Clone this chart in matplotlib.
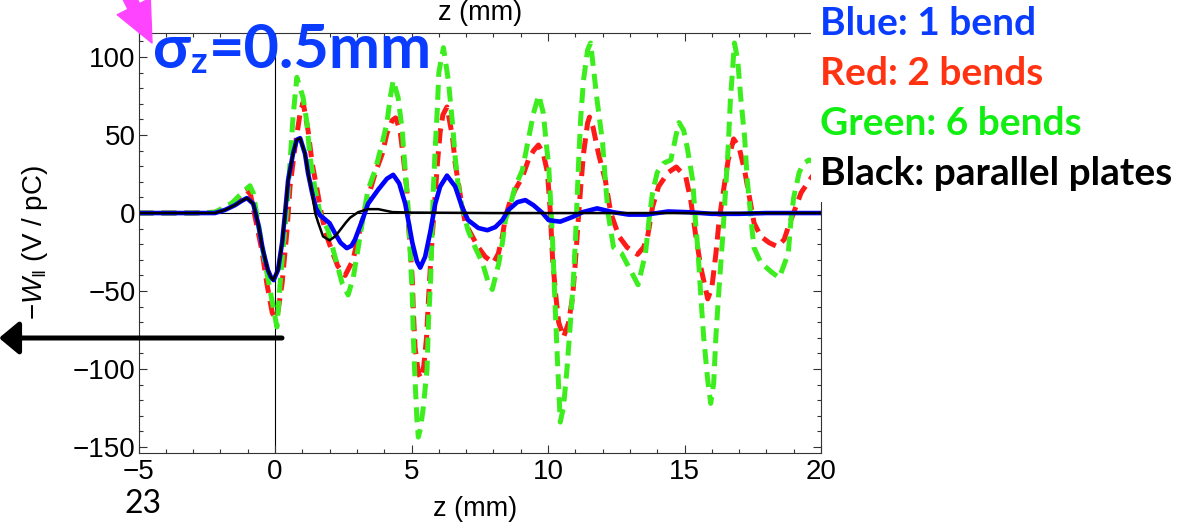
import numpy as np
import matplotlib.pyplot as plt
from matplotlib.patches import FancyArrowPatch, Rectangle
from matplotlib.ticker import MultipleLocator

plt.rcParams['font.family'] = ['Liberation Sans', 'DejaVu Sans']
plt.rcParams['mathtext.fontset'] = 'custom'
plt.rcParams['mathtext.rm'] = 'Liberation Sans'
plt.rcParams['mathtext.it'] = 'Liberation Sans:italic'

# wake potential -W|| (V/pC) against z (mm)
z_black = [-5, -3, -2.2, -1.83, -1.47, -1.2, -1.03, -0.8, -0.62, -0.44,
           -0.26, -0.15, -0.07, 0.11, 0.26, 0.37, 0.48, 0.66, 0.8, 0.92,
           1.1, 1.21, 1.36, 1.47, 1.58, 1.76, 2.0, 2.2, 2.38, 2.6,
           2.75, 3.05, 3.41, 3.78, 4.3, 5.0, 6.0, 8.0, 12.0, 20.0]
w_black = [0, 0, 0, 2, 5, 8, 9.6, 6, -6.5, -24,
           -36.5, -41, -43, -36.5, -19, 0, 21, 38, 47, 48,
           38, 25.6, 13, 0, -6, -15, -17.5, -15, -11, -6,
           -3, 0.6, 2.5, 2.5, 0.6, 0.3, 0.2, 0, 0, 0]

z_blue = [-5, -3, -2.2, -1.83, -1.47, -1.2, -1.03, -0.8, -0.62, -0.44,
          -0.26, -0.15, -0.05, 0.11, 0.26, 0.37, 0.48, 0.66, 0.8, 0.92,
          1.1, 1.21, 1.36, 1.5, 1.65, 1.83, 2.0, 2.2, 2.4, 2.63,
          2.8, 2.93, 3.2, 3.41, 3.78, 4.1, 4.33, 4.55, 4.77, 5.03,
          5.2, 5.32, 5.5, 5.7, 5.87, 6.05, 6.3, 6.6, 6.85, 7.07,
          7.45, 7.78, 8.07, 8.33, 8.55, 8.88, 9.17, 9.47, 9.8, 10.02,
          10.2, 10.45, 10.9, 11.27, 11.8, 12.37, 12.95, 13.6, 14.4, 15.2,
          16.0, 17.0, 18.0, 20.0]
w_blue = [0, 0, 0, 2, 5, 8, 9.6, 6, -6.5, -24,
          -36.5, -41, -43, -36.5, -19, 0, 21, 38, 47, 48,
          38, 25.6, 13, 3, -1.5, -4, -6.5, -13, -19, -22.5,
          -21, -17, -4.5, 6, 15, 22, 24.5, 19, 6, -19,
          -31, -35, -28, -11, 6, 17, 24, 17, 4, -4.5,
          -9.6, -11, -9, -4.5, 2, 7, 8.3, 5, 0, -4.5,
          -5, -5.5, -2.5, 0.6, 3, 0.6, -1, -1, 1, 0.5,
          -0.5, -0.5, 0, 0]

z_red = [-5, -3, -2.2, -1.58, -1.17, -1.03, -0.9, -0.73, -0.48, -0.3,
         -0.1, 0.0, 0.1, 0.26, 0.44, 0.55, 0.73, 0.92, 1.03, 1.21,
         1.36, 1.54, 1.72, 1.9, 2.1, 2.3, 2.57, 2.86, 3.05, 3.23,
         3.41, 3.67, 3.93, 4.1, 4.3, 4.42, 4.58, 4.7, 4.83, 4.88,
         4.95, 5.03, 5.07, 5.13, 5.25, 5.35, 5.45, 5.55, 5.62, 5.7,
         5.78, 5.87, 5.95, 6.05, 6.15, 6.3, 6.5, 6.6, 6.8, 6.97,
         7.23, 7.45, 7.7, 8.0, 8.18, 8.33, 8.44, 8.62, 8.8, 9.06,
         9.28, 9.47, 9.65, 9.83, 9.98, 10.08, 10.17, 10.28, 10.39, 10.57,
         10.75, 10.9, 11.0, 11.1, 11.2, 11.3, 11.45, 11.52, 11.65, 11.85,
         12.1, 12.3, 12.6, 12.9, 13.28, 13.5, 13.65, 13.83, 14.05, 14.4,
         14.7, 15.05, 15.23, 15.4, 15.6, 15.85, 16.0, 16.15, 16.27, 16.45,
         16.6, 16.8, 17.0, 17.2, 17.4, 17.55, 17.8, 18.1, 18.4, 18.65,
         18.8, 19.08, 19.27, 19.5, 19.7, 20.0]
w_red = [0, 0, 0.5, 5, 13, 14.7, 12, -2.5, -24, -45,
         -64, -67, -64, -45, -11, 17, 42, 64, 71, 53,
         32, 15, -2.5, -15, -25, -34, -40, -30, -15, -2.5,
         10, 25.6, 38, 51, 59.6, 61, 53, 36, 15, -4.5,
         -22, -43, -64, -86, -102.6, -106, -98, -80, -56, -32,
         -10, 12, 32, 52, 63, 68, 49, 32, 10, -6.5,
         -15, -22, -28, -32, -26, -15, -2.5, 8, 15, 23,
         34, 40, 43.6, 38, 26, 2, -30, -52, -70, -79.5,
         -70.5, -54, -32, -6.5, 17, 38, 57.7, 61.5, 55, 38,
         21, 0, -15, -22, -26.5, -22, -15, 4, 17, 26,
         29.5, 23, 8, -13, -35, -55, -48, -26, -4.5, 17,
         34, 47.5, 42, 27.5, 8, -6.5, -15, -19, -21.5, -17,
         -9, 4, 13, 19, 24, 28]

z_green = [-5, -3, -2.2, -1.58, -1.2, -0.92, -0.8, -0.55, -0.3, -0.07,
           0.07, 0.18, 0.3, 0.44, 0.55, 0.66, 0.8, 1.03, 1.17, 1.28,
           1.47, 1.65, 1.94, 2.2, 2.46, 2.68, 2.87, 3.05, 3.23, 3.41,
           3.67, 3.93, 4.1, 4.22, 4.33, 4.51, 4.66, 4.77, 4.88, 4.95,
           5.03, 5.07, 5.13, 5.2, 5.25, 5.33, 5.43, 5.57, 5.62, 5.7,
           5.75, 5.8, 5.87, 5.95, 6.0, 6.17, 6.35, 6.5, 6.6, 6.7,
           6.85, 7.07, 7.33, 7.6, 7.82, 7.96, 8.2, 8.33, 8.44, 8.6,
           8.8, 9.06, 9.28, 9.47, 9.66, 9.83, 9.95, 10.02, 10.1, 10.17,
           10.25, 10.35, 10.45, 10.57, 10.7, 10.82, 10.93, 11.0, 11.07, 11.13,
           11.2, 11.3, 11.45, 11.56, 11.67, 11.8, 12.0, 12.1, 12.2, 12.4,
           12.7, 13.0, 13.3, 13.57, 13.7, 13.83, 14.0, 14.24, 14.5, 14.68,
           14.8, 14.97, 15.1, 15.3, 15.4, 15.5, 15.6, 15.7, 15.85, 15.96,
           16.07, 16.15, 16.27, 16.4, 16.5, 16.6, 16.68, 16.83, 16.95, 17.06,
           17.2, 17.3, 17.43, 17.54, 17.8, 18.2, 18.47, 18.8, 18.9, 19.0,
           19.2, 19.37, 19.56, 19.75, 20.0]
w_green = [0, 0, 0.5, 6.4, 13, 17.5, 13, -13, -38, -60,
           -73, -47, -22, 4, 32, 61.5, 87, 74, 57.7, 36,
           15, 0, -11, -28, -45, -52.5, -41, -22, -2.5, 15,
           27.5, 45, 57.7, 74, 85, 74, 53, 27.5, 2, -23.7,
           -54, -81, -107, -133, -143.6, -138, -125, -100, -70.5, -43,
           -15, 15, 42, 68, 90, 106, 85, 57.7, 36, 19,
           4, -11, -22, -32, -45, -49, -32, -19, -4.5, 4,
           17, 27.5, 47, 64, 75.6, 64, 42, 32, 6, -19,
           -55, -96, -134, -124, -99, -70.5, -43, -19, 10, 36,
           61.5, 85, 104.5, 109, 92, 72, 45, 21, 0, -22,
           -26, -36, -46, -26, -4.5, 13, 26, 32, 34, 49,
           58, 53, 42, 21, -4.5, -26, -54, -79, -107, -122,
           -109, -79, -47, -15, 13, 42, 72, 109, 98, 74,
           49, 21, -2.5, -22, -32, -38, -41.5, -26, -4.5, 10,
           26, 32, 34, 33, 28]

legend_lines = ['Blue: 1 bend', 'Red: 2 bends', 'Green: 6 bends', 'Black: parallel plates']
legend_colors = ['#0a3cff', '#ff3311', '#11ee11', 'black']

W, H = 1196, 525
fig = plt.figure(figsize=(W / 100, H / 100), dpi=100)


def px(x, y):
    # pixel position measured from the top-left corner -> figure fraction
    return x / W, 1 - y / H


ax = fig.add_axes([138.5 / W, 1 - 453 / H, (821 - 138.5) / W, 420 / H])
ax.axhline(0, color='black', lw=0.8, zorder=1.5)
ax.axvline(0, color='black', lw=0.8, zorder=1.5)
ax.plot(z_red, w_red, color='#ff1a1a', lw=3.6, dashes=(3.0, 1.6), dash_capstyle='butt')
ax.plot(z_green, w_green, color='#3cee1e', lw=3.6, dashes=(3.0, 1.6), dash_capstyle='butt')
ax.plot(z_blue, w_blue, color='#0000ff', lw=3.3)
ax.plot(z_black, w_black, color='black', lw=1.8)

ax.set_xlim(-5, 20)
ax.set_ylim(-153.8, 115.4)
ax.xaxis.set_major_locator(MultipleLocator(5))
ax.xaxis.set_minor_locator(MultipleLocator(1))
ax.yaxis.set_major_locator(MultipleLocator(50))
ax.yaxis.set_minor_locator(MultipleLocator(10))
ax.tick_params(which='both', direction='in', top=True, right=True,
               labelsize=20, width=0.8, color='#333333')
ax.tick_params(which='major', length=6)
ax.tick_params(which='minor', length=3)
ax.tick_params(axis='x', pad=4)
ax.tick_params(axis='y', pad=2)
for s in ax.spines.values():
    s.set_linewidth(0.8)
    s.set_color('#333333')

# axis labels (frame labels top and bottom)
fig.text(*px(480, 20), 'z (mm)', fontsize=19.5, ha='center', va='baseline')
fig.text(*px(475, 516), 'z (mm)', fontsize=19.5, ha='center', va='baseline')
fig.text(*px(35, 243), r'$-W_{\|}$ (V / pC)', fontsize=20, rotation=90,
         ha='center', va='center')

# white box behind the colour key, covering the top right of the frame
fig.patches.append(Rectangle(px(811, 202), (W - 811) / W, 202 / H,
                             transform=fig.transFigure, facecolor='white',
                             edgecolor='none', zorder=1))
for i, (txt, col) in enumerate(zip(legend_lines, legend_colors)):
    fig.text(*px(820, 35 + 50 * i), txt, fontsize=28, weight='bold', color=col,
             family='Lato', va='baseline', zorder=3)

# sigma_z label built from pieces
r = fig.canvas.get_renderer()
blue = '#0a3cff'
t1 = fig.text(*px(153, 68), 'σ', fontsize=44, weight='bold', color=blue,
              family='Lato', va='baseline', zorder=3)
bb = t1.get_window_extent(r)
t2 = fig.text(bb.x1 / W, 1 - 73 / H, 'z', fontsize=26, weight='bold', color=blue,
              family='Lato', va='baseline', zorder=3)
bb2 = t2.get_window_extent(r)
fig.text(bb2.x1 / W + 2 / W, 1 - 68 / H, '=0.5mm', fontsize=44, weight='bold',
         color=blue, family='Lato', va='baseline', zorder=3)

fig.text(*px(125, 513), '23', fontsize=23, family='Lato', va='baseline')

# arrows drawn on top of the slide
fig.add_artist(FancyArrowPatch(px(282, 338), px(-1, 338), transform=fig.transFigure,
                               arrowstyle='-|>,head_length=0.6,head_width=0.5',
                               mutation_scale=20, lw=3.6, color='black',
                               shrinkA=0, shrinkB=0, zorder=4))
fig.add_artist(FancyArrowPatch(px(112, -37), px(152, 43), transform=fig.transFigure,
                               arrowstyle='simple,head_length=1.05,head_width=0.95,tail_width=0.33',
                               mutation_scale=28, color='#ff44ff',
                               shrinkA=0, shrinkB=0, zorder=4))

fig.savefig('out.png', dpi=100)
